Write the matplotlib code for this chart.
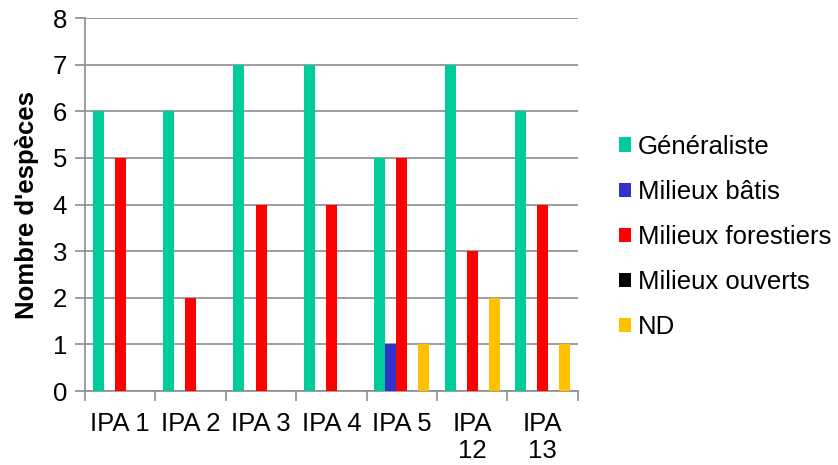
import matplotlib
matplotlib.use("Agg")
import matplotlib.pyplot as plt
import numpy as np

plt.rcParams['font.family'] = ['Liberation Sans', 'DejaVu Sans']

categories = ["IPA 1", "IPA 2", "IPA 3", "IPA 4", "IPA 5", "IPA\n12", "IPA\n13"]
series_names = ["Généraliste", "Milieux bâtis", "Milieux forestiers", "Milieux ouverts", "ND"]
generaliste = [6, 6, 7, 7, 5, 7, 6]
batis = [0, 0, 0, 0, 1, 0, 0]
forestiers = [5, 2, 4, 4, 5, 3, 4]
ouverts = [0, 0, 0, 0, 0, 0, 0]
nd = [0, 0, 0, 0, 1, 2, 1]
colors = ["#00CC99", "#3333CC", "#FF0000", "#000000", "#FFC000"]

FS = 18.5
fig = plt.figure(figsize=(8.38, 4.65), dpi=100)
ax = fig.add_axes([0.1015, 0.159, 0.588, 0.802])

x = np.arange(len(categories))
w = 0.157
all_series = [generaliste, batis, forestiers, ouverts, nd]
for i, (vals, name, c) in enumerate(zip(all_series, series_names, colors)):
    ax.bar(x + (i - 2) * w, vals, width=w, color=c, label=name, zorder=3)

ax.set_xlim(-0.5, len(categories) - 0.5)
ax.set_ylim(0, 8)
ax.set_yticks(range(0, 9))
ax.yaxis.grid(True, color="#8c8c8c", linewidth=1.2, zorder=0)
ax.set_xticks(x)
ax.set_xticklabels(categories, fontsize=FS, linespacing=1.15)
ax.set_xticks(np.arange(-0.5, len(categories), 1), minor=True)
ax.tick_params(axis='x', which='major', length=0, pad=15)
ax.tick_params(axis='x', which='minor', length=7, color="#8c8c8c", width=1.2)
ax.tick_params(axis='y', labelsize=FS, length=7, color="#8c8c8c", width=1.2, pad=6)
for s in ["top", "right"]:
    ax.spines[s].set_visible(False)
for s in ["left", "bottom"]:
    ax.spines[s].set_color("#8c8c8c")
    ax.spines[s].set_linewidth(1.2)
ax.set_ylabel("Nombre d'espèces", fontsize=FS, fontweight='bold', labelpad=10)

ax.legend(loc='center left', bbox_to_anchor=(1.062, 0.413), frameon=False,
          fontsize=FS, handlelength=0.5, handleheight=0.5, handletextpad=0.25,
          labelspacing=0.82, borderaxespad=0)

fig.savefig("out.png", dpi=100)
